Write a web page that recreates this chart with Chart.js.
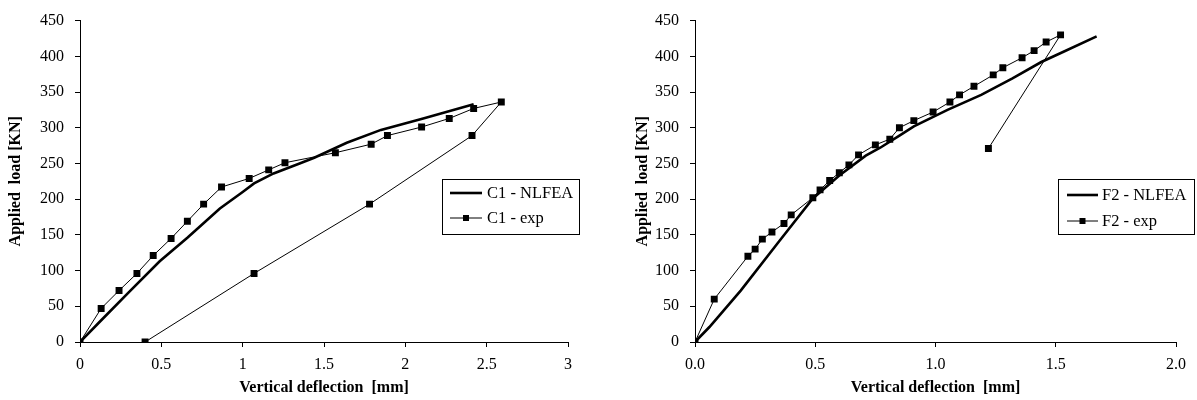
<!DOCTYPE html>
<html><head><meta charset="utf-8">
<script src="https://cdn.jsdelivr.net/npm/chart.js@4.4.1/dist/chart.umd.min.js"></script>
<style>
html,body{margin:0;padding:0;background:#fff;}
#wrap{position:relative;width:1197px;height:400px;overflow:hidden;}
.c{position:absolute;top:0;height:400px;}
</style></head><body>
<div id="wrap">
<div class="c" style="left:0;width:598px"><canvas id="c1" width="598" height="400"></canvas></div>
<div class="c" style="left:598px;width:599px"><canvas id="c2" width="599" height="400"></canvas></div>
</div>
<script>
// ---- Data ----
const c1NlfeaX = [0, 0.12, 0.31, 0.49, 0.66, 0.86, 1.0, 1.07, 1.19, 1.35, 1.44, 1.64, 1.85, 2.11, 2.42];
const c1NlfeaY = [0, 28, 72, 113, 146, 187, 210, 222, 236, 250, 258, 279, 297, 313, 333];
const c1ExpX = [0, 0.13, 0.24, 0.35, 0.45, 0.56, 0.66, 0.76, 0.87, 1.04, 1.16, 1.26, 1.57, 1.79, 1.89, 2.10, 2.27, 2.42, 2.59, 2.41, 1.78, 1.07, 0.40];
const c1ExpY = [0, 47, 72, 96, 121, 145, 169, 193, 217, 229, 241, 251, 265, 277, 289, 301, 313, 327, 336, 289, 193, 96, 0];

const f2NlfeaX = [0, 0.06, 0.19, 0.35, 0.49, 0.60, 0.71, 0.77, 0.85, 0.91, 1.05, 1.19, 1.32, 1.44, 1.53, 1.67];
const f2NlfeaY = [0, 21, 72, 141, 201, 233, 261, 272, 289, 302, 325, 346, 369, 392, 406, 428];
const f2ExpX = [0, 0.08, 0.22, 0.25, 0.28, 0.32, 0.37, 0.40, 0.49, 0.52, 0.56, 0.60, 0.64, 0.68, 0.75, 0.81, 0.85, 0.91, 0.99, 1.06, 1.10, 1.16, 1.24, 1.28, 1.36, 1.41, 1.46, 1.52, 1.22];
const f2ExpY = [0, 60, 120, 130, 144, 154, 166, 178, 202, 213, 226, 237, 248, 262, 276, 284, 300, 310, 322, 336, 346, 358, 374, 384, 398, 408, 420, 430, 271];

const c1Labels = ['C1 - NLFEA', 'C1 - exp'];
const f2Labels = ['F2 - NLFEA', 'F2 - exp'];
const yTitle = 'Applied  load [KN]';
const xTitle = 'Vertical deflection  [mm]';
const yMin = 0, yMax = 450, yStep = 50;
const c1XMax = 3, f2XMax = 2, xStep = 0.5;

const zip = (xs, ys) => xs.map((x, i) => ({x: x, y: ys[i]}));
const SERIF = '"Liberation Serif", "Times New Roman", serif';

const boxLegend = {
  id: 'boxLegend',
  afterDraw(chart, args, o) {
    const ctx = chart.ctx;
    ctx.save();
    ctx.strokeStyle = '#000';
    ctx.lineWidth = 1;
    ctx.strokeRect(o.x + 0.5, o.y + 0.5, o.w, o.h);
    chart.data.datasets.forEach((ds, i) => {
      const y = o.y + o.rows[i];
      ctx.beginPath();
      ctx.lineWidth = ds.borderWidth;
      ctx.moveTo(o.x + o.l0, y);
      ctx.lineTo(o.x + o.l1, y);
      ctx.stroke();
      if (ds.pointRadius > 0) {
        const s = 3;
        ctx.fillStyle = '#000';
        ctx.fillRect(o.x + (o.l0 + o.l1) / 2 - s, y - s, 2 * s, 2 * s);
      }
      ctx.font = '16.5px ' + SERIF;
      ctx.fillStyle = '#000';
      ctx.textBaseline = 'middle';
      ctx.textAlign = 'left';
      ctx.fillText(ds.label, o.x + o.tx, y + 1);
    });
    ctx.restore();
  }
};

function makeChart(id, labels, nx, ny, ex, ey, xMax, fmt, geo, leg) {
  return new Chart(document.getElementById(id), {
    type: 'scatter',
    data: {
      datasets: [
        { label: labels[0], data: zip(nx, ny), showLine: true, borderColor: '#000', backgroundColor: '#000',
          borderWidth: 2.6, pointRadius: 0, pointHoverRadius: 0, tension: 0 },
        { label: labels[1], data: zip(ex, ey), showLine: true, borderColor: '#000', backgroundColor: '#000',
          borderWidth: 1, pointStyle: 'rect', pointRadius: 4.9, pointBorderWidth: 0, tension: 0 }
      ]
    },
    options: {
      responsive: false,
      animation: false,
      events: [],
      layout: { padding: { left: 0, top: 16, right: geo.padRight, bottom: 0 } },
      plugins: { legend: { display: false }, tooltip: { enabled: false }, boxLegend: leg },
      scales: {
        x: {
          type: 'linear', min: 0, max: xMax,
          afterFit: s => { s.height = 58; },
          ticks: { stepSize: xStep, padding: 8, color: '#000', callback: fmt,
                   font: { family: SERIF, size: 16 } },
          grid: { display: true, drawOnChartArea: false, drawTicks: true, tickLength: 5, tickColor: '#000' },
          border: { display: true, color: '#000', width: 1 },
          title: { display: true, text: xTitle, color: '#000', padding: { top: 0, bottom: 3 },
                   font: { family: SERIF, size: 16, weight: 'bold' } }
        },
        y: {
          type: 'linear', min: yMin, max: yMax,
          afterFit: s => { s.width = geo.yWidth; },
          ticks: { stepSize: yStep, padding: 11, color: '#000',
                   font: { family: SERIF, size: 16 } },
          grid: { display: true, drawOnChartArea: false, drawTicks: true, tickLength: 5, tickColor: '#000' },
          border: { display: true, color: '#000', width: 1 },
          title: { display: true, text: yTitle, color: '#000', padding: { top: geo.yTitlePad, bottom: 0 },
                   font: { family: SERIF, size: 16, weight: 'bold' } }
        }
      }
    },
    plugins: [boxLegend]
  });
}

makeChart('c1', c1Labels, c1NlfeaX, c1NlfeaY, c1ExpX, c1ExpY, c1XMax, v => String(v),
  { padRight: 30, yWidth: 80, yTitlePad: 6 },
  { x: 442, y: 179, w: 137, h: 55, l0: 8, l1: 40, tx: 45, rows: [14, 39] });
makeChart('c2', f2Labels, f2NlfeaX, f2NlfeaY, f2ExpX, f2ExpY, f2XMax, v => Number(v).toFixed(1),
  { padRight: 21, yWidth: 97, yTitlePad: 35 },
  { x: 460, y: 179, w: 136, h: 55, l0: 9, l1: 40, tx: 44, rows: [16, 42] });
</script>
</body></html>
